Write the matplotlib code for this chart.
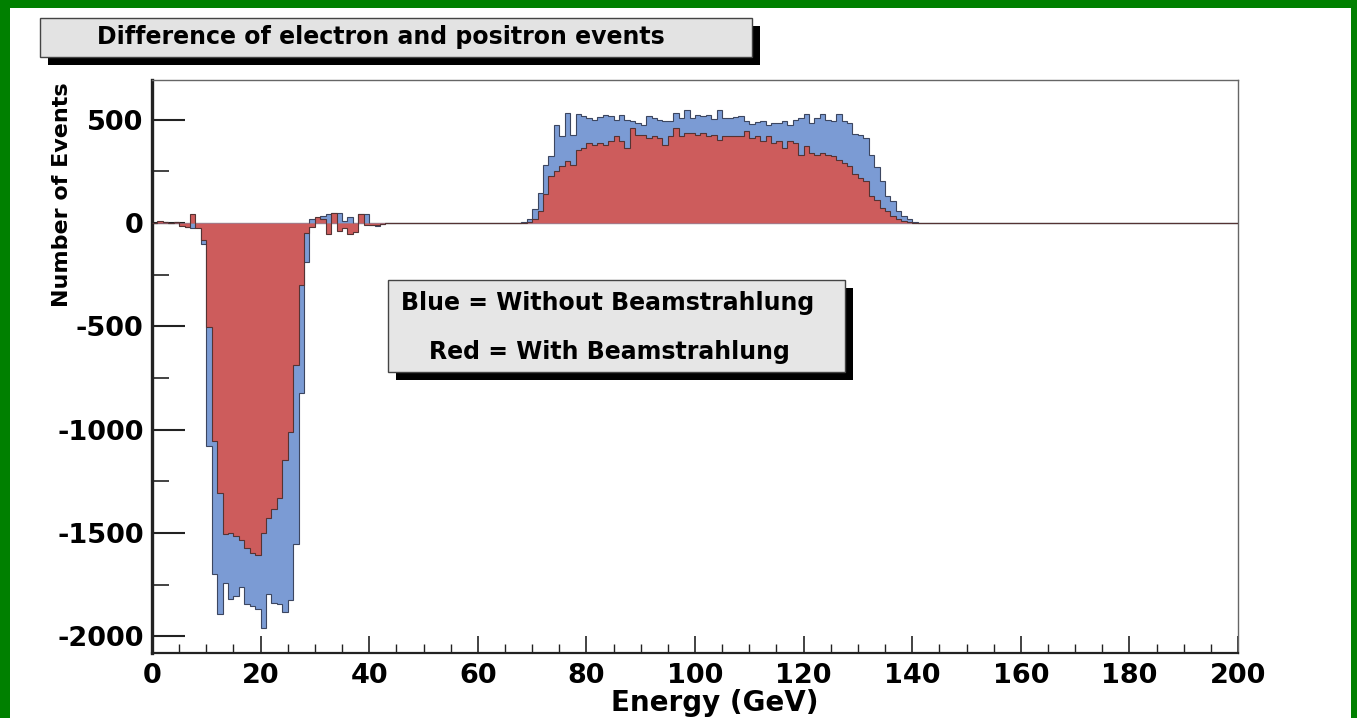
import numpy as np
import matplotlib
matplotlib.use("Agg")
import matplotlib.pyplot as plt
from matplotlib.patches import Rectangle

# ---- histogram contents (1 GeV bins) ----
low_start = 0
blue_low = [0, 5, 5, 0, 4, -12, -18, -22, -20, -100,
            -1080, -1700, -1893, -1740, -1820, -1805, -1760, -1845, -1855, -1870,
            -1958, -1795, -1840, -1845, -1885, -1825, -1555, -825, -190, 20,
            25, 35, 45, 50, 50, 10, 30, -10, 42, 42,
            -8, -15, -5, 0, 0]
red_low = [0, 8, 5, 0, 3, -15, -20, 45, -25, -80,
           -505, -1055, -1305, -1505, -1500, -1515, -1535, -1575, -1595, -1608,
           -1500, -1430, -1385, -1330, -1147, -1010, -685, -300, -50, -20,
           30, 20, -55, 50, -40, -25, -55, -45, 42, -12,
           -10, -10, -3, 0, 0]

high_start = 66
blue_high = [0, 2, 5, 18, 66, 146, 283, 323, 475, 419,
             532, 427, 527, 516, 508, 500, 511, 524, 516, 500,
             524, 500, 492, 484, 475, 516, 508, 500, 492, 495,
             532, 508, 548, 508, 524, 516, 524, 505, 548, 508,
             508, 511, 516, 492, 479, 488, 492, 475, 484, 484,
             492, 472, 500, 508, 527, 484, 508, 527, 500, 495,
             527, 492, 484, 430, 427, 411, 331, 270, 202, 130,
             106, 58, 34, 18, 6, 2]
red_high = [0, 0, 0, 3, 18, 58, 138, 226, 250, 275,
            299, 283, 355, 363, 387, 379, 387, 379, 395, 419,
            395, 363, 459, 427, 427, 411, 419, 411, 379, 419,
            459, 419, 435, 435, 427, 435, 419, 427, 403, 419,
            419, 419, 419, 443, 411, 419, 398, 419, 387, 395,
            363, 395, 387, 331, 371, 339, 331, 339, 331, 323,
            307, 290, 275, 235, 218, 202, 130, 110, 74, 58,
            34, 18, 8, 3, 0, 0]

x_ticks = [0, 20, 40, 60, 80, 100, 120, 140, 160, 180, 200]
y_ticks = [-2000, -1500, -1000, -500, 0, 500]

title_text = "Difference of electron and positron events"
legend_lines = ["Blue = Without Beamstrahlung", "Red = With Beamstrahlung"]
x_title = "Energy (GeV)"
y_title = "Number of Events"

# ---- assemble full 0-200 GeV histograms ----
edges = np.arange(0, 201, 1)
blue = np.zeros(200)
red = np.zeros(200)
blue[low_start:low_start + len(blue_low)] = blue_low
red[low_start:low_start + len(red_low)] = red_low
blue[high_start:high_start + len(blue_high)] = blue_high
red[high_start:high_start + len(red_high)] = red_high

W, H = 1357, 718
FONT = "DejaVu Sans"


def fx(px):
    return px / W


def fy(py):
    return 1 - py / H


fig = plt.figure(figsize=(W / 100, H / 100), dpi=100)
fig.patch.set_facecolor("#008000")
fig.add_artist(Rectangle((fx(10), 0), fx(1351) - fx(10), fy(8),
                         transform=fig.transFigure, facecolor="white",
                         edgecolor="none", zorder=-10))

ax = fig.add_axes([fx(152), fy(653), fx(1238) - fx(152), fy(80) - fy(653)])
ax.set_facecolor("white")
ax.set_xlim(0, 200)
ax.set_ylim(-2081, 692)

ax.axhline(0, color="#8a8a8a", lw=1.0, zorder=1)
ax.stairs(blue, edges, baseline=0, fill=True, facecolor="#7b9bd4",
          edgecolor="#3c4660", linewidth=0.8, zorder=2)
ax.stairs(red, edges, baseline=0, fill=True, facecolor="#cd5c5c",
          edgecolor="#553333", linewidth=0.8, zorder=3)

# axes frame
for side in ("top", "right"):
    ax.spines[side].set_color("#666666")
    ax.spines[side].set_linewidth(1.0)
ax.spines["left"].set_linewidth(2.4)
ax.spines["left"].set_color("#222222")
ax.spines["bottom"].set_linewidth(1.6)
ax.spines["bottom"].set_color("#222222")

ax.set_xticks(x_ticks)
ax.set_xticks(np.arange(0, 201, 5), minor=True)
ax.set_yticks(y_ticks)
ax.set_yticks(np.arange(-2000, 501, 250), minor=True)
ax.tick_params(axis="x", which="major", direction="in", length=12, width=1.2,
               pad=7, color="#222222")
ax.tick_params(axis="x", which="minor", direction="in", length=6.5, width=1.0,
               color="#222222")
ax.tick_params(axis="y", which="major", direction="in", length=24, width=1.5,
               pad=6, color="#222222")
ax.tick_params(axis="y", which="minor", direction="in", length=12.5, width=1.2,
               color="#222222")
ax.set_xticklabels([str(v) for v in x_ticks])
ax.set_yticklabels([str(v) for v in y_ticks])
for lab in ax.get_xticklabels() + ax.get_yticklabels():
    lab.set_fontfamily(FONT)
    lab.set_fontweight("bold")
    lab.set_fontsize(19.5)

# axis titles
fig.text(fx(715), fy(703), x_title, ha="center", va="center",
         fontsize=20, fontweight="bold", family=FONT)
fig.text(fx(62), fy(195), y_title, ha="center", va="center", rotation=90,
         fontsize=16, fontweight="bold", family=FONT)


def shadow_box(x0, y0, x1, y1, off, fill):
    fig.add_artist(Rectangle((fx(x0 + off), fy(y1 + off)), fx(x1) - fx(x0),
                             fy(y0) - fy(y1), transform=fig.transFigure,
                             facecolor="black", edgecolor="none", zorder=5))
    fig.add_artist(Rectangle((fx(x0), fy(y1)), fx(x1) - fx(x0),
                             fy(y0) - fy(y1), transform=fig.transFigure,
                             facecolor=fill, edgecolor="#444444", lw=1.0,
                             zorder=6))


# title box
shadow_box(40, 18, 752, 57, 8, "#e3e3e3")
fig.text(fx(97), fy(37), title_text, ha="left", va="center", fontsize=17,
         fontweight="bold", family=FONT, zorder=7)

# colour key box
shadow_box(388, 280, 845, 372, 8, "#e6e6e6")
fig.text(fx(608), fy(303), legend_lines[0], ha="center", va="center",
         fontsize=17, fontweight="bold", family=FONT, zorder=7)
fig.text(fx(609), fy(352), legend_lines[1], ha="center", va="center",
         fontsize=17, fontweight="bold", family=FONT, zorder=7)

fig.savefig("out.png", dpi=100, facecolor=fig.get_facecolor())
